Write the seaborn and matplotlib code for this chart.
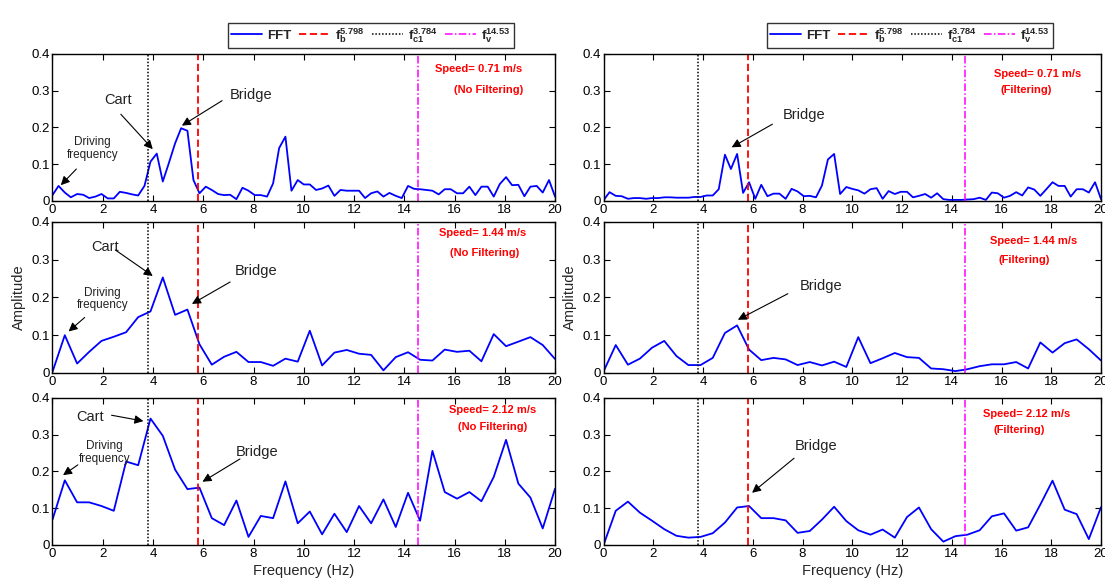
import numpy as np
import matplotlib
matplotlib.use("Agg")
import matplotlib.pyplot as plt
import seaborn as sns

# frequency grids (Hz)
freq_fine = [0, 0.24, 0.49, 0.73, 0.98, 1.22, 1.46, 1.71, 1.95, 2.20, 2.44, 2.68, 2.93, 3.17,
             3.41, 3.66, 3.90, 4.15, 4.39, 4.63, 4.88, 5.12, 5.37, 5.61, 5.85, 6.10, 6.34, 6.59,
             6.83, 7.07, 7.32, 7.56, 7.80, 8.05, 8.29, 8.54, 8.78, 9.02, 9.27, 9.51, 9.76, 10.00,
             10.24, 10.49, 10.73, 10.98, 11.22, 11.46, 11.71, 11.95, 12.20, 12.44, 12.68, 12.93,
             13.17, 13.41, 13.66, 13.90, 14.15, 14.39, 14.63, 14.88, 15.12, 15.37, 15.61, 15.85,
             16.10, 16.34, 16.59, 16.83, 17.07, 17.32, 17.56, 17.80, 18.05, 18.29, 18.54, 18.78,
             19.02, 19.27, 19.51, 19.76, 20.00]
freq_coarse = [0, 0.49, 0.98, 1.46, 1.95, 2.44, 2.93, 3.41, 3.90, 4.39, 4.88, 5.37, 5.85, 6.34,
               6.83, 7.32, 7.80, 8.29, 8.78, 9.27, 9.76, 10.24, 10.73, 11.22, 11.71, 12.20, 12.68,
               13.17, 13.66, 14.15, 14.63, 15.12, 15.61, 16.10, 16.59, 17.07, 17.56, 18.05, 18.54,
               19.02, 19.51, 20.0]

# amplitudes, no filtering
amp_071_raw = [0.016, 0.041, 0.023, 0.010, 0.019, 0.017, 0.008, 0.012, 0.019, 0.007,
               0.007, 0.025, 0.022, 0.018, 0.015, 0.041, 0.107, 0.129, 0.053, 0.103,
               0.157, 0.198, 0.191, 0.057, 0.021, 0.039, 0.030, 0.019, 0.016, 0.017,
               0.005, 0.036, 0.028, 0.016, 0.016, 0.012, 0.048, 0.144, 0.175, 0.028,
               0.057, 0.045, 0.045, 0.030, 0.034, 0.042, 0.014, 0.030, 0.028, 0.028,
               0.028, 0.008, 0.021, 0.026, 0.012, 0.022, 0.014, 0.008, 0.041, 0.033,
               0.032, 0.030, 0.028, 0.018, 0.032, 0.032, 0.021, 0.021, 0.039, 0.016,
               0.039, 0.039, 0.012, 0.046, 0.065, 0.043, 0.044, 0.013, 0.039, 0.041,
               0.023, 0.057, 0.012]
amp_144_raw = [0.003, 0.100, 0.025, 0.056, 0.085, 0.096, 0.108, 0.148, 0.163, 0.253,
               0.154, 0.168, 0.076, 0.022, 0.043, 0.056, 0.029, 0.029, 0.019, 0.038,
               0.030, 0.112, 0.020, 0.054, 0.061, 0.051, 0.048, 0.007, 0.042, 0.055,
               0.035, 0.033, 0.062, 0.056, 0.059, 0.031, 0.103, 0.071, 0.083, 0.095,
               0.074, 0.037]
amp_212_raw = [0.069, 0.176, 0.116, 0.116, 0.106, 0.093, 0.227, 0.217, 0.344, 0.297,
               0.205, 0.152, 0.156, 0.073, 0.054, 0.121, 0.022, 0.079, 0.073, 0.173,
               0.059, 0.091, 0.029, 0.085, 0.035, 0.106, 0.059, 0.124, 0.049, 0.142,
               0.066, 0.256, 0.144, 0.126, 0.144, 0.119, 0.185, 0.286, 0.167, 0.129,
               0.045, 0.153]

# amplitudes, filtering
amp_071_filt = [0.002, 0.024, 0.014, 0.013, 0.006, 0.008, 0.008, 0.006, 0.008, 0.008,
                0.010, 0.010, 0.009, 0.009, 0.009, 0.011, 0.011, 0.015, 0.015, 0.032,
                0.126, 0.087, 0.128, 0.022, 0.051, 0.006, 0.044, 0.013, 0.020, 0.020,
                0.006, 0.033, 0.026, 0.013, 0.014, 0.010, 0.042, 0.113, 0.128, 0.019,
                0.038, 0.033, 0.029, 0.020, 0.032, 0.035, 0.006, 0.027, 0.019, 0.025,
                0.025, 0.010, 0.014, 0.019, 0.009, 0.021, 0.005, 0.003, 0.003, 0.003,
                0.004, 0.005, 0.009, 0.003, 0.023, 0.021, 0.009, 0.014, 0.024, 0.015,
                0.037, 0.031, 0.014, 0.032, 0.051, 0.041, 0.041, 0.012, 0.032, 0.032,
                0.023, 0.051, 0.005]
amp_144_filt = [0.004, 0.074, 0.022, 0.038, 0.067, 0.085, 0.045, 0.021, 0.021, 0.040,
                0.106, 0.126, 0.062, 0.034, 0.040, 0.036, 0.021, 0.029, 0.020, 0.030,
                0.016, 0.095, 0.026, 0.039, 0.053, 0.042, 0.040, 0.012, 0.010, 0.005,
                0.010, 0.018, 0.023, 0.023, 0.029, 0.012, 0.081, 0.054, 0.079, 0.089,
                0.063, 0.033]
amp_212_filt = [0.000, 0.093, 0.118, 0.088, 0.066, 0.043, 0.025, 0.020, 0.022, 0.032,
                0.061, 0.102, 0.106, 0.073, 0.073, 0.067, 0.033, 0.038, 0.069, 0.104,
                0.065, 0.040, 0.028, 0.042, 0.020, 0.076, 0.102, 0.043, 0.009, 0.024,
                0.028, 0.040, 0.078, 0.086, 0.039, 0.048, 0.110, 0.175, 0.096, 0.084,
                0.016, 0.103]

f_b, f_c1, f_v = 5.798, 3.784, 14.53
speeds = ["0.71", "1.44", "2.12"]

sns.set_theme(style="ticks")
plt.rcParams["font.family"] = ["Liberation Sans", "DejaVu Sans"]
plt.rcParams["mathtext.fontset"] = "custom"
plt.rcParams["mathtext.rm"] = "Liberation Sans"
plt.rcParams["mathtext.bf"] = "Liberation Sans:bold"
plt.rcParams["mathtext.it"] = "Liberation Sans:italic"

fig = plt.figure(figsize=(11.05, 5.86), dpi=100)
col_x = [(0.0475, 0.4548), (0.5462, 0.4502)]
row_y = [(0.6570, 0.2509), (0.3635, 0.2577), (0.0700, 0.2509)]

panels = [
    [(freq_fine, amp_071_raw), (freq_fine, amp_071_filt)],
    [(freq_coarse, amp_144_raw), (freq_coarse, amp_144_filt)],
    [(freq_coarse, amp_212_raw), (freq_coarse, amp_212_filt)],
]

# per panel: speed text pos, sub text pos
speed_pos = [
    [((16.95, 0.36), (17.36, 0.303)), ((17.44, 0.346), (17.0, 0.302))],
    [((17.1, 0.37), (17.2, 0.317)), ((17.3, 0.349), (16.9, 0.30))],
    [((17.5, 0.368), (17.5, 0.322)), ((17.0, 0.356), (16.7, 0.313))],
]

# annotations: (label, text xy, arrow tail, arrow head)
notes = [
    [[("Driving\nfrequency", (1.6, 0.144), (0.95, 0.087), (0.33, 0.043)),
      ("Cart", (2.6, 0.275), (2.72, 0.236), (3.99, 0.141)),
      ("Bridge", (7.9, 0.289), (6.75, 0.273), (5.15, 0.205))],
     [("Bridge", (8.08, 0.233), (6.79, 0.209), (5.15, 0.146))]],
    [[("Driving\nfrequency", (2.0, 0.196), (1.28, 0.147), (0.64, 0.11)),
      ("Cart", (2.09, 0.335), (2.5, 0.326), (3.99, 0.257)),
      ("Bridge", (8.11, 0.27), (7.07, 0.241), (5.55, 0.183))],
     [("Bridge", (8.76, 0.23), (7.41, 0.21), (5.4, 0.141))]],
    [[("Driving\nfrequency", (2.07, 0.252), (1.01, 0.218), (0.42, 0.19)),
      ("Cart", (1.51, 0.349), (2.35, 0.353), (3.62, 0.337)),
      ("Bridge", (8.13, 0.254), (7.46, 0.234), (5.97, 0.172))],
     [("Bridge", (8.56, 0.269), (7.66, 0.236), (5.97, 0.142))]],
]

legend_labels = ["FFT",
                 r"$\mathbf{f}_{\mathbf{b}}^{\mathbf{5.798}}$",
                 r"$\mathbf{f}_{\mathbf{c1}}^{\mathbf{3.784}}$",
                 r"$\mathbf{f}_{\mathbf{v}}^{\mathbf{14.53}}$"]

for r in range(3):
    for c in range(2):
        ax = fig.add_axes([col_x[c][0], row_y[r][0], col_x[c][1], row_y[r][1]])
        fx, amp = panels[r][c]
        sns.lineplot(x=fx, y=amp, ax=ax, color="#0000FF", lw=1.3, estimator=None,
                     sort=False, label=legend_labels[0], legend=False)
        ax.axvline(f_b, color="#FF0000", ls=(0, (4, 2)), lw=1.3, label=legend_labels[1])
        ax.axvline(f_c1, color="black", ls=(0, (1, 1.2)), lw=1.1, label=legend_labels[2])
        ax.axvline(f_v, color="#FF00FF", ls=(0, (5, 1.5, 1, 1.5)), lw=1.1, label=legend_labels[3])
        ax.set_xlim(0, 20)
        ax.set_ylim(0, 0.4)
        ax.set_xticks(range(0, 21, 2))
        ax.set_yticks([0, 0.1, 0.2, 0.3, 0.4])
        ax.set_yticklabels(["0", "0.1", "0.2", "0.3", "0.4"])
        ax.tick_params(direction="in", top=True, right=True, length=4, width=0.8,
                       labelsize=9.5, pad=2, colors="black")
        for sp in ax.spines.values():
            sp.set_color("black")
            sp.set_linewidth(1.0)
        ax.set_xlabel("")
        ax.set_ylabel("")
        if r == 1:
            ax.set_ylabel("Amplitude", fontsize=10.5, labelpad=4)
        if r == 2:
            ax.set_xlabel("Frequency (Hz)", fontsize=10.5, labelpad=3)

        sp_xy, sub_xy = speed_pos[r][c]
        ax.text(*sp_xy, f"Speed= {speeds[r]} m/s", color="#FF0000", fontsize=8,
                fontweight="bold", ha="center", va="center")
        ax.text(*sub_xy, "(No Filtering)" if c == 0 else "(Filtering)", color="#FF0000",
                fontsize=8, fontweight="bold", ha="center", va="center")

        for label, txy, tail, head in notes[r][c]:
            small = label.startswith("Driving")
            ax.text(*txy, label, fontsize=8.5 if small else 10.5, ha="center", va="center",
                    linespacing=1.1, color="#222222")
            ax.annotate("", xy=head, xytext=tail,
                        arrowprops=dict(arrowstyle="-|>", color="black", lw=0.8,
                                        mutation_scale=13, shrinkA=0, shrinkB=0))

        if r == 0:
            handles, labels = ax.get_legend_handles_labels()
            cx = 0.3357 if c == 0 else 0.8235
            leg = fig.legend(handles, labels, loc="center", bbox_to_anchor=(cx, 0.940),
                             ncol=4, fontsize=9.5, frameon=True, fancybox=False,
                             edgecolor="black", handlelength=2.35, columnspacing=0.55,
                             handletextpad=0.4, borderpad=0.25, borderaxespad=0)
            leg.get_frame().set_linewidth(1.0)
            for t in leg.get_texts():
                t.set_fontweight("bold")

fig.savefig("out.png", dpi=100, facecolor="white")
